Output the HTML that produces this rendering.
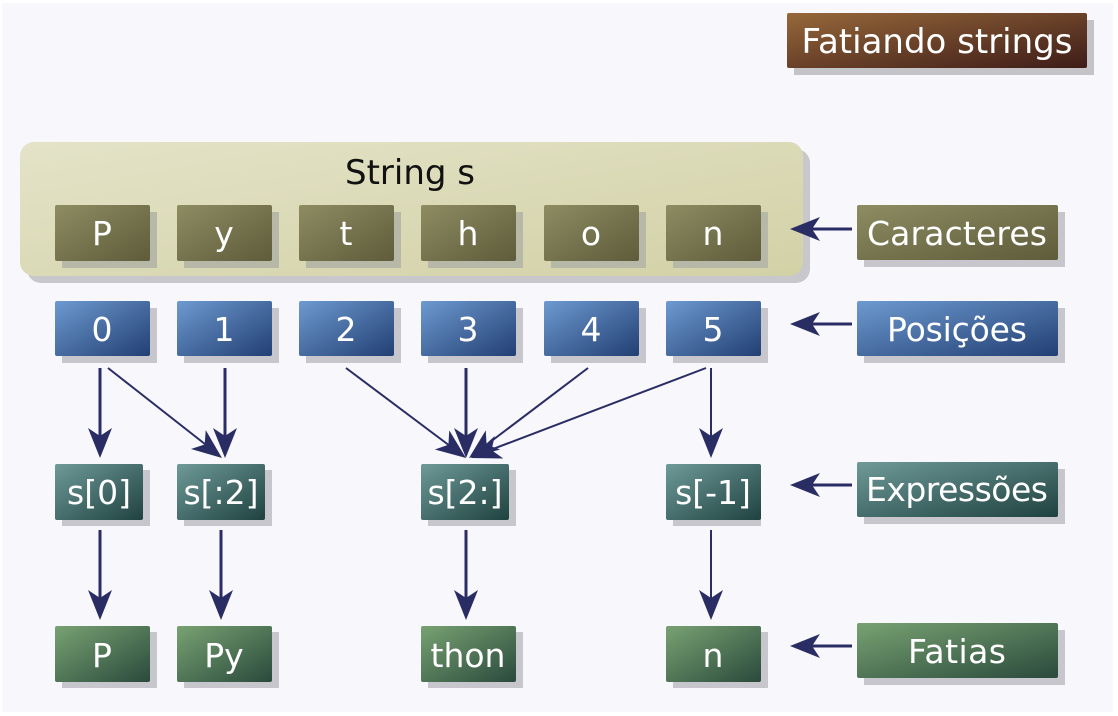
<!DOCTYPE html>
<html><head><meta charset="utf-8"><style>
html,body{margin:0;padding:0;background:#fff;}
svg{display:block;}
text{font-family:"DejaVu Sans","Liberation Sans",sans-serif;}
</style></head><body>
<svg width="1118" height="716" viewBox="0 0 1118 716" xmlns="http://www.w3.org/2000/svg">
<defs>
<linearGradient id="gOl" x1="0" y1="0" x2="1" y2="1"><stop offset="0" stop-color="#8e8c62"/><stop offset="1" stop-color="#5e5c3a"/></linearGradient>
<linearGradient id="gBl" x1="0" y1="0" x2="1" y2="1"><stop offset="0" stop-color="#6d9ad0"/><stop offset="1" stop-color="#223f73"/></linearGradient>
<linearGradient id="gTe" x1="0" y1="0" x2="1" y2="1"><stop offset="0" stop-color="#6e9a98"/><stop offset="1" stop-color="#1f4240"/></linearGradient>
<linearGradient id="gGr" x1="0" y1="0" x2="1" y2="1"><stop offset="0" stop-color="#78a272"/><stop offset="1" stop-color="#2a4a3c"/></linearGradient>
<linearGradient id="gBr" x1="0" y1="0" x2="1" y2="1"><stop offset="0" stop-color="#96683a"/><stop offset="1" stop-color="#3e1c18"/></linearGradient>
<linearGradient id="gCt" x1="0" y1="0" x2="1" y2="1"><stop offset="0" stop-color="#e4e3c8"/><stop offset="1" stop-color="#d2d1a6"/></linearGradient>
</defs>
<rect x="2" y="3" width="1111" height="709" fill="#f7f7fc"/>

<rect x="794" y="20" width="300" height="55" fill="#c4c4c8"/>
<rect x="787" y="13" width="300" height="55" rx="2" fill="url(#gBr)"/>
<text x="937" y="53" text-anchor="middle" font-size="34" fill="#fff">Fatiando strings</text>

<rect x="27" y="149" width="783" height="134" rx="14" fill="#c8c8cc"/>
<rect x="20" y="142" width="783" height="134" rx="14" fill="url(#gCt)"/>
<text x="410" y="184" text-anchor="middle" font-size="34" fill="#111">String s</text>

<g font-size="33" fill="#fff" text-anchor="middle">
<g>
<rect x="62" y="212" width="95" height="56" fill="#b8b8a8"/><rect x="55" y="205" width="95" height="56" rx="2" fill="url(#gOl)"/><text x="102" y="245">P</text>
<rect x="184" y="212" width="95" height="56" fill="#b8b8a8"/><rect x="177" y="205" width="95" height="56" rx="2" fill="url(#gOl)"/><text x="224" y="245">y</text>
<rect x="306" y="212" width="95" height="56" fill="#b8b8a8"/><rect x="299" y="205" width="95" height="56" rx="2" fill="url(#gOl)"/><text x="346" y="245">t</text>
<rect x="428" y="212" width="95" height="56" fill="#b8b8a8"/><rect x="421" y="205" width="95" height="56" rx="2" fill="url(#gOl)"/><text x="468" y="245">h</text>
<rect x="551" y="212" width="95" height="56" fill="#b8b8a8"/><rect x="544" y="205" width="95" height="56" rx="2" fill="url(#gOl)"/><text x="591" y="245">o</text>
<rect x="673" y="212" width="95" height="56" fill="#b8b8a8"/><rect x="666" y="205" width="95" height="56" rx="2" fill="url(#gOl)"/><text x="713" y="245">n</text>
</g>
<g>
<rect x="62" y="308" width="95" height="55" fill="#c6c6cc"/><rect x="55" y="301" width="95" height="55" rx="2" fill="url(#gBl)"/><text x="102" y="341">0</text>
<rect x="184" y="308" width="95" height="55" fill="#c6c6cc"/><rect x="177" y="301" width="95" height="55" rx="2" fill="url(#gBl)"/><text x="224" y="341">1</text>
<rect x="306" y="308" width="95" height="55" fill="#c6c6cc"/><rect x="299" y="301" width="95" height="55" rx="2" fill="url(#gBl)"/><text x="346" y="341">2</text>
<rect x="428" y="308" width="95" height="55" fill="#c6c6cc"/><rect x="421" y="301" width="95" height="55" rx="2" fill="url(#gBl)"/><text x="468" y="341">3</text>
<rect x="551" y="308" width="95" height="55" fill="#c6c6cc"/><rect x="544" y="301" width="95" height="55" rx="2" fill="url(#gBl)"/><text x="591" y="341">4</text>
<rect x="673" y="308" width="95" height="55" fill="#c6c6cc"/><rect x="666" y="301" width="95" height="55" rx="2" fill="url(#gBl)"/><text x="713" y="341">5</text>
</g>
<g>
<rect x="62" y="470" width="88" height="56" fill="#c6c6cc"/><rect x="55" y="464" width="88" height="56" rx="2" fill="url(#gTe)"/><text x="99" y="504">s[0]</text>
<rect x="184" y="470" width="88" height="56" fill="#c6c6cc"/><rect x="177" y="464" width="88" height="56" rx="2" fill="url(#gTe)"/><text x="221" y="504">s[:2]</text>
<rect x="428" y="470" width="88" height="56" fill="#c6c6cc"/><rect x="421" y="464" width="88" height="56" rx="2" fill="url(#gTe)"/><text x="465" y="504">s[2:]</text>
<rect x="673" y="470" width="88" height="56" fill="#c6c6cc"/><rect x="666" y="464" width="95" height="56" rx="2" fill="url(#gTe)"/><text x="713" y="504">s[-1]</text>
</g>
<g>
<rect x="62" y="632" width="95" height="56" fill="#c6c6cc"/><rect x="55" y="626" width="95" height="56" rx="2" fill="url(#gGr)"/><text x="102" y="667">P</text>
<rect x="184" y="632" width="95" height="56" fill="#c6c6cc"/><rect x="177" y="626" width="95" height="56" rx="2" fill="url(#gGr)"/><text x="224" y="667">Py</text>
<rect x="428" y="632" width="95" height="56" fill="#c6c6cc"/><rect x="421" y="626" width="95" height="56" rx="2" fill="url(#gGr)"/><text x="468" y="667">thon</text>
<rect x="673" y="632" width="95" height="56" fill="#c6c6cc"/><rect x="666" y="626" width="95" height="56" rx="2" fill="url(#gGr)"/><text x="713" y="667">n</text>
</g>
<g>
<rect x="864" y="212" width="201" height="55" fill="#c6c6cc"/><rect x="857" y="205" width="201" height="55" rx="2" fill="url(#gOl)"/><text x="957" y="245" textLength="180">Caracteres</text>
<rect x="864" y="308" width="201" height="55" fill="#c6c6cc"/><rect x="857" y="301" width="201" height="55" rx="2" fill="url(#gBl)"/><text x="957" y="341" textLength="140">Posições</text>
<rect x="864" y="469" width="201" height="55" fill="#c6c6cc"/><rect x="857" y="462" width="201" height="55" rx="2" fill="url(#gTe)"/><text x="957" y="501" textLength="182">Expressões</text>
<rect x="864" y="630" width="201" height="55" fill="#c6c6cc"/><rect x="857" y="623" width="201" height="55" rx="2" fill="url(#gGr)"/><text x="957" y="663" textLength="98">Fatias</text>
</g>
</g>

<g stroke="#2a2d63" fill="none">
<line x1="852" y1="229" x2="800" y2="229" stroke-width="3"/>
<line x1="852" y1="324" x2="800" y2="324" stroke-width="3"/>
<line x1="852" y1="485" x2="800" y2="485" stroke-width="3"/>
<line x1="852" y1="646" x2="800" y2="646" stroke-width="3"/>
<line x1="100" y1="368" x2="100" y2="440" stroke-width="3"/>
<line x1="108" y1="368" x2="210" y2="448" stroke-width="2"/>
<line x1="225" y1="368" x2="225" y2="440" stroke-width="3"/>
<line x1="346" y1="368" x2="454" y2="449" stroke-width="2"/>
<line x1="466" y1="368" x2="466" y2="440" stroke-width="3"/>
<line x1="588" y1="368" x2="481" y2="449" stroke-width="2"/>
<line x1="706" y1="368" x2="485" y2="452" stroke-width="2"/>
<line x1="711" y1="368" x2="711" y2="440" stroke-width="2"/>
<line x1="100" y1="530" x2="100" y2="602" stroke-width="3"/>
<line x1="221" y1="530" x2="221" y2="602" stroke-width="3"/>
<line x1="466" y1="530" x2="466" y2="602" stroke-width="3"/>
<line x1="711" y1="530" x2="711" y2="602" stroke-width="2"/>
</g>
<g fill="#2a2d63">
<path d="M0,0 L-30,-12 L-22,0 L-30,12 Z" transform="translate(790,229) rotate(180)"/>
<path d="M0,0 L-30,-12 L-22,0 L-30,12 Z" transform="translate(790,324) rotate(180)"/>
<path d="M0,0 L-30,-12 L-22,0 L-30,12 Z" transform="translate(790,485) rotate(180)"/>
<path d="M0,0 L-30,-12 L-22,0 L-30,12 Z" transform="translate(790,646) rotate(180)"/>
<path d="M0,0 L-30,-12 L-22,0 L-30,12 Z" transform="translate(100,458) rotate(90)"/>
<path d="M0,0 L-30,-12 L-22,0 L-30,12 Z" transform="translate(222,458) rotate(38)"/>
<path d="M0,0 L-30,-12 L-22,0 L-30,12 Z" transform="translate(225,458) rotate(90)"/>
<path d="M0,0 L-30,-12 L-22,0 L-30,12 Z" transform="translate(466,458) rotate(37)"/>
<path d="M0,0 L-30,-12 L-22,0 L-30,12 Z" transform="translate(466,458) rotate(90)"/>
<path d="M0,0 L-30,-12 L-22,0 L-30,12 Z" transform="translate(469,458) rotate(143)"/>
<path d="M0,0 L-30,-12 L-22,0 L-30,12 Z" transform="translate(471,458) rotate(159)"/>
<path d="M0,0 L-30,-12 L-22,0 L-30,12 Z" transform="translate(711,458) rotate(90)"/>
<path d="M0,0 L-30,-12 L-22,0 L-30,12 Z" transform="translate(100,620) rotate(90)"/>
<path d="M0,0 L-30,-12 L-22,0 L-30,12 Z" transform="translate(221,620) rotate(90)"/>
<path d="M0,0 L-30,-12 L-22,0 L-30,12 Z" transform="translate(466,620) rotate(90)"/>
<path d="M0,0 L-30,-12 L-22,0 L-30,12 Z" transform="translate(711,620) rotate(90)"/>
</g>
</svg>
</body></html>
